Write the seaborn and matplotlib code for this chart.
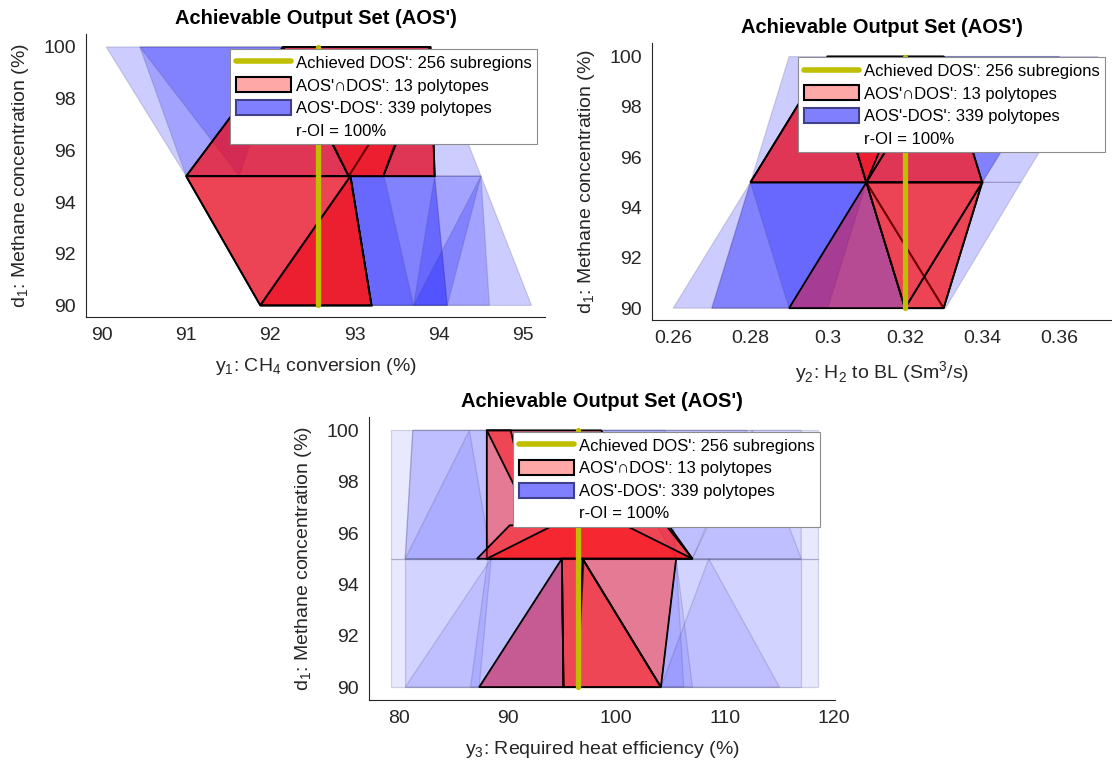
import matplotlib
matplotlib.use("Agg")
import matplotlib.pyplot as plt
import numpy as np
import pandas as pd
import seaborn as sns
from matplotlib.patches import Patch
from matplotlib.lines import Line2D

# ---- data -------------------------------------------------------------
d1_span = [90, 100]          # methane concentration range of the DOS line
dos_ch4 = 92.57              # achieved DOS' value, y1
dos_h2 = 0.32                # achieved DOS' value, y2
dos_heat = 96.5              # achieved DOS' value, y3

legend_labels = ["Achieved DOS': 256 subregions",
                 "AOS'\u2229DOS': 13 polytopes",
                 "AOS'-DOS': 339 polytopes",
                 "r-OI = 100%"]

# polytopes projected onto (y_i, d1); vertices as (y_i, d1)
ch4_blue = [
    [(90.05, 100), (91.0, 95), (94.5, 95), (93.9, 100)],
    [(90.45, 100), (91.0, 95), (93.95, 95), (93.9, 100)],
    [(90.45, 100), (92.15, 100), (91.63, 95)],
    [(92.95, 95), (93.2, 90), (95.1, 90), (94.5, 95)],
    [(92.95, 95), (93.2, 90), (94.6, 90), (94.5, 95)],
    [(92.95, 95), (93.2, 90), (94.1, 90), (93.95, 95)],
    [(92.95, 95), (93.2, 90), (93.7, 90), (93.35, 95)],
    [(93.95, 95), (93.7, 90), (94.1, 90)],
    [(94.5, 95), (93.7, 90), (94.1, 90)],
    [(91.0, 95), (91.88, 90), (93.2, 90), (92.95, 95)],
    [(91.88, 90), (93.2, 90), (92.95, 95)],
]
ch4_red = [
    [(91.0, 95), (92.15, 100), (93.9, 100), (93.95, 95)],
    [(91.0, 95), (92.15, 100), (92.93, 95)],
    [(92.93, 95), (92.15, 100), (93.9, 100)],
    [(92.93, 95), (93.9, 100), (93.34, 95)],
    [(93.34, 95), (93.9, 100), (93.95, 95)],
    [(92.93, 95), (92.35, 98.8), (93.8, 98.8), (93.34, 95)],
    [(91.0, 95), (91.88, 90), (92.95, 95)],
    [(91.88, 90), (93.2, 90), (92.95, 95)],
    [(91.0, 95), (91.88, 90), (93.2, 90), (92.95, 95)],
    [(91.88, 90), (93.2, 90), (92.95, 95)],
]

h2_blue = [
    [(0.28, 95), (0.29, 100), (0.37, 100), (0.35, 95)],
    [(0.28, 95), (0.30, 100), (0.36, 100), (0.34, 95)],
    [(0.33, 100), (0.36, 100), (0.34, 95)],
    [(0.26, 90), (0.28, 95), (0.35, 95), (0.3305, 90)],
    [(0.27, 90), (0.28, 95), (0.31, 95), (0.29, 90)],
    [(0.27, 90), (0.28, 95), (0.31, 95), (0.30, 90)],
    [(0.28, 95), (0.31, 95), (0.29, 90)],
    [(0.29, 90), (0.31, 95), (0.32, 90)],
    [(0.29, 90), (0.31, 95), (0.32, 90)],
]
h2_red = [
    [(0.28, 95), (0.30, 100), (0.33, 100), (0.34, 95)],
    [(0.28, 95), (0.30, 100), (0.31, 95)],
    [(0.31, 95), (0.30, 100), (0.33, 100)],
    [(0.31, 95), (0.33, 100), (0.34, 95)],
    [(0.31, 95), (0.302, 99), (0.321, 99)],
    [(0.29, 90), (0.31, 95), (0.32, 90)],
    [(0.31, 95), (0.33, 90), (0.34, 95)],
    [(0.31, 95), (0.32, 90), (0.33, 90)],
    [(0.34, 95), (0.32, 90), (0.33, 90)],
    [(0.31, 95), (0.34, 95), (0.32, 90)],
]

heat_blue = [
    [(79.3, 95), (79.3, 100), (118.5, 100), (118.5, 95)],
    [(80.6, 95), (81.3, 100), (117, 100), (117, 95)],
    [(80.6, 95), (81.3, 100), (88.1, 100), (88.1, 95)],
    [(80.6, 95), (86.5, 100), (88.5, 95)],
    [(98.6, 100), (112, 100), (107, 95)],
    [(98.6, 100), (104.5, 100), (105.5, 95)],
    [(107, 95), (112.5, 100), (117, 95)],
    [(79.3, 90), (79.3, 95), (118.5, 95), (118.5, 90)],
    [(80.6, 90), (80.6, 95), (117, 95), (117, 90)],
    [(80.6, 90), (88.5, 95), (87.4, 90)],
    [(86.6, 90), (88.2, 95), (95.0, 95), (95.15, 90)],
    [(87.4, 90), (95.0, 95), (95.15, 90)],
    [(87.4, 90), (95.0, 95), (95.15, 90)],
    [(104.1, 90), (108.5, 95), (115, 90)],
    [(104.1, 90), (105.5, 95), (107, 90)],
    [(104.1, 90), (105.5, 95), (106.2, 90)],
]
heat_red = [
    [(88.1, 95), (88.1, 100), (98.6, 100), (107, 95)],
    [(87.2, 95), (107, 95), (104.2, 96.5), (90.2, 96.3)],
    [(88.1, 100), (90.3, 100), (92.2, 96.5)],
    [(88.1, 95), (107, 95), (97.5, 97)],
    [(87.4, 90), (95.0, 95), (95.15, 90)],
    [(95.0, 95), (96.9, 95), (104.1, 90), (95.15, 90)],
    [(96.9, 95), (105.5, 95), (104.1, 90)],
    [(95.0, 95), (97.0, 95), (96.4, 90), (95.15, 90)],
    [(96.9, 95), (104.1, 90), (96.4, 90)],
]

# ---- style ------------------------------------------------------------
sns.set_theme(style="white")
plt.rcParams["font.family"] = ["Liberation Sans", "DejaVu Sans"]
plt.rcParams["mathtext.fontset"] = "custom"
plt.rcParams["mathtext.rm"] = "Liberation Sans"
ink = "#262626"
dos_color = "#BFBF00"

fig = plt.figure(figsize=(11.12, 7.65), dpi=100)

panels = [
    dict(rect=[0.0773, 0.5856, 0.4128, 0.3699], blue=ch4_blue, red=ch4_red,
         dos=dos_ch4, xlim=(89.81, 95.26), ylim=(89.55, 100.5),
         xticks=[90, 91, 92, 93, 94, 95], xtl=None,
         xlabel=r"y$_\mathregular{1}$: CH$_\mathregular{4}$ conversion (%)",
         balpha=0.2, leg=(0.983, 0.947)),
    dict(rect=[0.5863, 0.5817, 0.4137, 0.3621], blue=h2_blue, red=h2_red,
         dos=dos_h2, xlim=(0.2545, 0.3736), ylim=(89.53, 100.54),
         xticks=[0.26, 0.28, 0.30, 0.32, 0.34, 0.36],
         xtl=["0.26", "0.28", "0.3", "0.32", "0.34", "0.36"],
         xlabel=r"y$_\mathregular{2}$: H$_\mathregular{2}$ to BL (Sm$^\mathregular{3}$/s)",
         balpha=0.2, leg=(0.985, 0.949)),
    dict(rect=[0.3318, 0.085, 0.4191, 0.3699], blue=heat_blue, red=heat_red,
         dos=dos_heat, xlim=(77.27, 120.1), ylim=(89.5, 100.52),
         xticks=[80, 90, 100, 110, 120], xtl=None,
         xlabel=r"y$_\mathregular{3}$: Required heat efficiency (%)",
         balpha=0.09, leg=(0.968, 0.947)),
]

for p in panels:
    ax = fig.add_axes(p["rect"])
    for poly in p["blue"]:
        xs, ys = zip(*poly)
        ax.fill(xs, ys, facecolor=(0, 0, 1, p["balpha"]),
                edgecolor=(0.25, 0.25, 0.45, 0.2), linewidth=0.9, zorder=1)
    for poly in p["red"]:
        xs, ys = zip(*poly)
        ax.fill(xs, ys, facecolor=(1, 0, 0, 0.42),
                edgecolor="black", linewidth=1.3, zorder=2)
    line_df = pd.DataFrame({"y": [p["dos"], p["dos"]], "d1": d1_span})
    sns.lineplot(data=line_df, x="y", y="d1", estimator=None, sort=False,
                 color=dos_color, linewidth=3.8, ax=ax, zorder=3)

    ax.set_xlim(*p["xlim"])
    ax.set_ylim(*p["ylim"])
    ax.set_xticks(p["xticks"])
    if p["xtl"]:
        ax.set_xticklabels(p["xtl"])
    ax.set_yticks([90, 92, 94, 96, 98, 100])
    ax.tick_params(direction="in", length=4, width=0.8, color=ink,
                   labelcolor=ink, labelsize=14, pad=7)
    for s in ("top", "right"):
        ax.spines[s].set_visible(False)
    for s in ("left", "bottom"):
        ax.spines[s].set_color(ink)
        ax.spines[s].set_linewidth(0.8)
    ax.set_xlabel(p["xlabel"], fontsize=14, color=ink, labelpad=9)
    ax.set_ylabel(r"d$_\mathregular{1}$: Methane concentration (%)",
                  fontsize=14, color=ink, labelpad=9)
    ax.set_title("Achievable Output Set (AOS')", fontsize=14.5,
                 fontweight="bold", color="black", pad=7)

    handles = [
        Line2D([], [], color=dos_color, linewidth=4),
        Patch(facecolor=(1, 0.66, 0.66), edgecolor="black", linewidth=1.5),
        Patch(facecolor=(0.5, 0.5, 1), edgecolor=(0.25, 0.25, 0.55), linewidth=1.5),
        Line2D([], [], linestyle="none"),
    ]
    leg = ax.legend(handles, legend_labels, loc="upper right",
                    bbox_to_anchor=p["leg"], borderaxespad=0,
                    fontsize=12, frameon=True, fancybox=False, framealpha=1,
                    handlelength=3.3, handleheight=1.0, handletextpad=0.27,
                    labelspacing=0.38, borderpad=0.35)
    leg.get_frame().set_edgecolor("#8c8c8c")
    leg.get_frame().set_linewidth(0.8)
    leg.set_zorder(10)
    for t in leg.get_texts():
        t.set_color("black")

fig.savefig("out.png", dpi=100)
